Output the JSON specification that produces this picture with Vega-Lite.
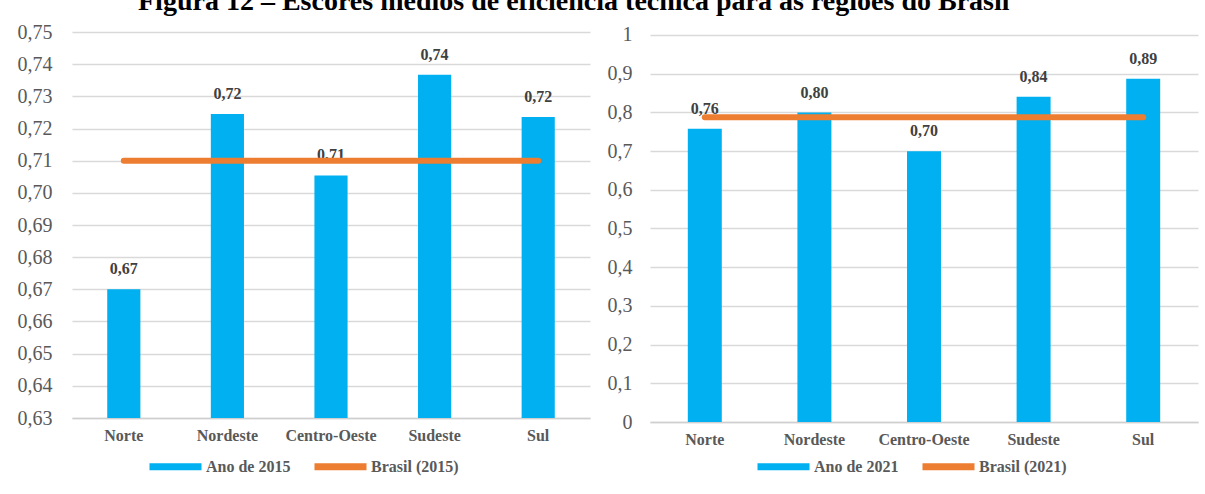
{
  "$schema": "https://vega.github.io/schema/vega-lite/v6.json",
  "padding": {"left": 17, "top": -12, "right": 2, "bottom": 0},
  "autosize": {"type": "pad"},
  "background": "white",
  "config": {
    "locale": {"number": {"decimal": ",", "thousands": ".", "grouping": [3], "currency": ["R$", ""]}},
    "font": "Liberation Serif",
    "view": {"stroke": null},
    "concat": {"spacing": 17},
    "axisY": {"labelFont": "Liberation Serif", "labelFontSize": 20, "labelColor": "#595959", "labelPadding": 20, "labelOverlap": false, "tickCount": 50, "domain": false, "ticks": false, "grid": true, "gridColor": "#d9d9d9", "gridWidth": 1.3, "title": null},
    "axisX": {"labelFont": "Liberation Serif", "labelFontSize": 16, "labelFontWeight": "bold", "labelColor": "#595959", "labelPadding": 9, "labelAngle": 0, "domain": true, "domainColor": "#cfcfcf", "domainWidth": 1.5, "ticks": false, "grid": false, "title": null},
    "legend": {"orient": "none", "direction": "horizontal", "title": null, "symbolType": "stroke", "symbolSize": 2704, "symbolStrokeWidth": 7, "labelFont": "Liberation Serif", "labelFontSize": 16, "labelFontWeight": "bold", "labelColor": "#595959", "columnPadding": 9, "labelOffset": 1}
  },
  "title": {"text": "Figura 12 – Escores médios de eficiência técnica para as regiões do Brasil", "font": "Liberation Serif", "fontSize": 28, "fontWeight": "bold", "color": "black", "anchor": "start", "dx": 121, "offset": 6},
  "resolve": {"scale": {"color": "independent", "x": "independent", "y": "independent"}, "legend": {"color": "independent"}},
  "hconcat": [
    {
      "width": 518,
      "height": 386,
      "data": {"values": [
        {"regiao": "Norte", "valor": 0.6700, "brasil": 0.7100},
        {"regiao": "Nordeste", "valor": 0.7245, "brasil": 0.7100},
        {"regiao": "Centro-Oeste", "valor": 0.7054, "brasil": 0.7100},
        {"regiao": "Sudeste", "valor": 0.7367, "brasil": 0.7100},
        {"regiao": "Sul", "valor": 0.7236, "brasil": 0.7100}
      ]},
      "encoding": {
        "x": {"field": "regiao", "type": "nominal", "sort": null, "scale": {"paddingInner": 0.68, "paddingOuter": 0.34}}
      },
      "layer": [
        {
          "mark": {"type": "bar"},
          "encoding": {
            "y": {"field": "valor", "type": "quantitative", "scale": {"domain": [0.63, 0.75], "zero": false, "nice": false}, "axis": {"values": [0.63, 0.64, 0.65, 0.66, 0.67, 0.68, 0.69, 0.70, 0.71, 0.72, 0.73, 0.74, 0.75], "format": ".2f"}},
            "y2": {"datum": 0.63},
            "color": {"datum": "Ano de 2015", "type": "nominal", "scale": {"domain": ["Ano de 2015", "Brasil (2015)"], "range": ["#00B0F0", "#ED7D31"]},
              "legend": {"legendX": 74, "legendY": 405}}
          }
        },
        {
          "mark": {"type": "text", "baseline": "middle", "dy": -20, "fontSize": 16, "fontWeight": "bold", "color": "#404040", "font": "Liberation Serif"},
          "encoding": {
            "y": {"field": "valor", "type": "quantitative"},
            "text": {"field": "valor", "type": "quantitative", "format": ".2f"}
          }
        },
        {
          "mark": {"type": "line", "strokeWidth": 6, "strokeCap": "round"},
          "encoding": {
            "y": {"field": "brasil", "type": "quantitative"},
            "color": {"datum": "Brasil (2015)", "type": "nominal"}
          }
        }
      ]
    },
    {
      "width": 548,
      "height": 390,
      "data": {"values": [
        {"regiao": "Norte", "valor": 0.7576, "brasil": 0.7876},
        {"regiao": "Nordeste", "valor": 0.7997, "brasil": 0.7876},
        {"regiao": "Centro-Oeste", "valor": 0.6997, "brasil": 0.7876},
        {"regiao": "Sudeste", "valor": 0.8403, "brasil": 0.7876},
        {"regiao": "Sul", "valor": 0.8868, "brasil": 0.7876}
      ]},
      "encoding": {
        "x": {"field": "regiao", "type": "nominal", "sort": null, "scale": {"paddingInner": 0.69, "paddingOuter": 0.345}}
      },
      "layer": [
        {
          "mark": {"type": "bar"},
          "encoding": {
            "y": {"field": "valor", "type": "quantitative", "scale": {"domain": [0, 1.00775], "nice": false}, "axis": {"values": [0, 0.1, 0.2, 0.3, 0.4, 0.5, 0.6, 0.7, 0.8, 0.9, 1], "format": ".1~f", "labelPadding": 18}},
            "y2": {"datum": 0},
            "color": {"datum": "Ano de 2021", "type": "nominal", "scale": {"domain": ["Ano de 2021", "Brasil (2021)"], "range": ["#00B0F0", "#ED7D31"]},
              "legend": {"legendX": 104, "legendY": 405}}
          }
        },
        {
          "mark": {"type": "text", "baseline": "middle", "dy": -20, "fontSize": 16, "fontWeight": "bold", "color": "#404040", "font": "Liberation Serif"},
          "encoding": {
            "y": {"field": "valor", "type": "quantitative"},
            "text": {"field": "valor", "type": "quantitative", "format": ".2f"}
          }
        },
        {
          "mark": {"type": "line", "strokeWidth": 6, "strokeCap": "round"},
          "encoding": {
            "y": {"field": "brasil", "type": "quantitative"},
            "color": {"datum": "Brasil (2021)", "type": "nominal"}
          }
        }
      ]
    }
  ]
}
